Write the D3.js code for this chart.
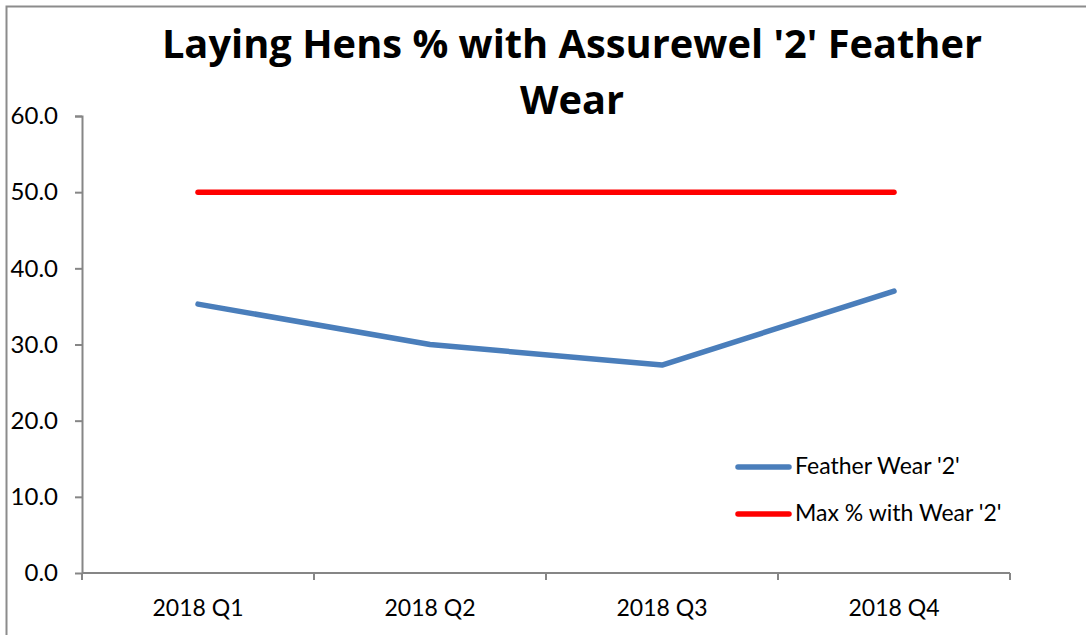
<!DOCTYPE html>
<html><head><meta charset="utf-8">
<script src="https://cdn.jsdelivr.net/npm/d3@7"></script>
<style>body{margin:0;background:#fff;}svg{display:block;font-family:Lato, "Open Sans", sans-serif;}</style>
</head><body>
<svg id="c" width="1086" height="635"></svg>
<script>
const categories = ["2018 Q1","2018 Q2","2018 Q3","2018 Q4"];
const featherWear = [35.3, 30.0, 27.3, 37.0];
const maxWear = [50, 50, 50, 50];
const yTicks = [0,10,20,30,40,50,60];
const seriesNames = ["Feather Wear '2'", "Max % with Wear '2'"];
const seriesColors = ["#4a7ebb", "#ff0000"];
const titleLines = ["Laying Hens % with Assurewel '2' Feather", "Wear"];

const svg = d3.select("#c");
svg.append("rect").attr("x",6.5).attr("y",6.5).attr("width",1200).attr("height",800)
  .attr("fill","none").attr("stroke","#8c8c8c").attr("stroke-width",2);

const x = d3.scaleBand().domain(categories).range([82,1010]);
const y = d3.scaleLinear().domain([0,60]).range([573,116]);

// y axis
const ya = svg.append("g").attr("transform","translate(82,0)")
  .call(d3.axisLeft(y).tickValues(yTicks).tickFormat(d3.format(".1f")).tickSize(7).tickPadding(17));
ya.select(".domain").attr("d","M-7,116.5H0.5V573.5").attr("stroke","#868686").attr("stroke-width",2);
ya.selectAll(".tick line").attr("stroke","#868686").attr("stroke-width",2);
ya.selectAll("text").attr("font-size",24).attr("fill","#000").attr("font-family","Lato");

// x axis
const xa = svg.append("g").attr("transform","translate(0,573)");
xa.append("line").attr("x1",82).attr("x2",1010).attr("y1",0).attr("y2",0).attr("stroke","#868686").attr("stroke-width",2);
const bounds = categories.map(c=>x(c)).concat([x.range()[1]]);
xa.selectAll(".tk").data(bounds).join("line").attr("class","tk")
  .attr("x1",d=>d).attr("x2",d=>d).attr("y1",0).attr("y2",7).attr("stroke","#868686").attr("stroke-width",2);
xa.selectAll(".lbl").data(categories).join("text").attr("class","lbl")
  .attr("x",d=>x(d)+x.bandwidth()/2).attr("y",43).attr("text-anchor","middle")
  .attr("font-size",23).attr("fill","#000").text(d=>d);

const line = d3.line().x((d,i)=>x(categories[i])+x.bandwidth()/2).y(d=>y(d));
[featherWear, maxWear].forEach((s,i)=>{
  svg.append("path").datum(s).attr("d",line).attr("fill","none")
    .attr("stroke",seriesColors[i]).attr("stroke-width",5.5).attr("stroke-linecap","round").attr("stroke-linejoin","round");
});

// legend
const lg = svg.append("g");
[467,514].forEach((yy,i)=>{
  lg.append("line").attr("x1",738).attr("x2",789).attr("y1",yy).attr("y2",yy)
    .attr("stroke",seriesColors[i]).attr("stroke-width",5.5).attr("stroke-linecap","round");
  lg.append("text").attr("x",795).attr("y",yy+7).attr("font-size",23).attr("fill","#000").text(seriesNames[i]);
});

// title
titleLines.forEach((t,i)=>{
  svg.append("text").attr("x",572).attr("y",[58,114][i]).attr("text-anchor","middle")
    .attr("font-size",39.8).attr("font-weight","bold").attr("font-family","'Open Sans'").attr("fill","#000").text(t);
});
</script>
</body></html>
